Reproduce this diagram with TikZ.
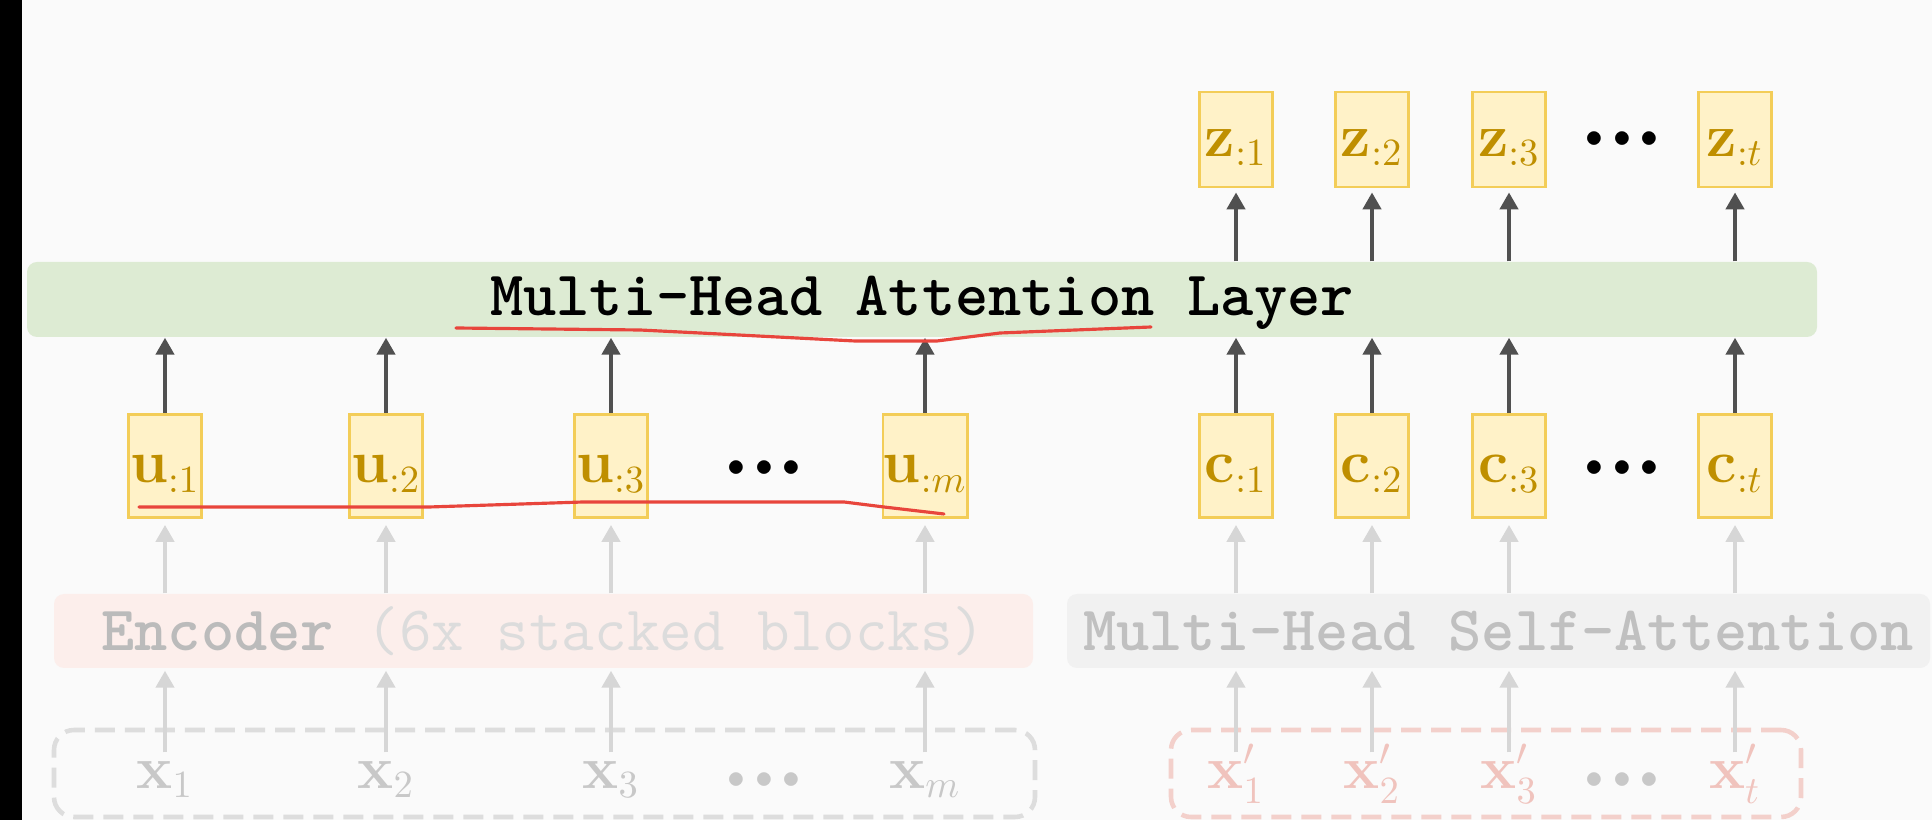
\documentclass[tikz,border=0pt]{standalone}
\usetikzlibrary{arrows.meta}
\definecolor{bg}{HTML}{FAFAFA}
\definecolor{barfill}{HTML}{DDEBD3}
\definecolor{cellfill}{HTML}{FFF2C8}
\definecolor{cellline}{HTML}{F3CD58}
\definecolor{gold}{HTML}{BF8F00}
\definecolor{darkarrow}{HTML}{505050}
\definecolor{lightarrow}{HTML}{D6D6D6}
\definecolor{encfill}{HTML}{FCEEEB}
\definecolor{enctext}{HTML}{BBBBBB}
\definecolor{enclight}{HTML}{DCDCDC}
\definecolor{selffill}{HTML}{F1F1F1}
\definecolor{selftext}{HTML}{C0C0C0}
\definecolor{xgray}{HTML}{C8C8C8}
\definecolor{xpink}{HTML}{F0C3BD}
\definecolor{xdash}{HTML}{DDDDDD}
\definecolor{xpdash}{HTML}{F3D0CB}
\definecolor{pen}{HTML}{E8453C}
\newcommand{\threedots}{$\mathord{\cdot}\mathord{\cdot}\mathord{\cdot}$}
\tikzset{
	cell/.style={draw=cellline, fill=cellfill, line width=0.8pt, minimum width=0.73cm, minimum height=1.03cm, inner sep=0pt, text=gold, font=\fontsize{16}{18}\selectfont, text height=0.42cm, text depth=0.08cm},
	zcell/.style={cell, minimum height=0.95cm},
	dotrow/.style={anchor=base, inner sep=0pt, font=\fontsize{24}{24}\selectfont\boldmath},
	xlab/.style={anchor=base, inner sep=0pt, text height=0.35cm, text depth=0pt, font=\fontsize{16}{18}\selectfont},
	layer/.style={rounded corners=0.1cm, minimum height=0.74cm, inner sep=0pt, font=\fontsize{18}{20}\selectfont\ttfamily},
	inbox/.style={rounded corners=0.2cm, line width=1.3pt, dash pattern=on 0.2cm off 0.1cm, minimum height=0.87cm, inner sep=0pt},
	darr/.style={draw=darkarrow, line width=1.4pt, -{Triangle[length=0.17cm,width=0.18cm]}},
	larr/.style={draw=lightarrow, line width=1.2pt, -{Triangle[length=0.17cm,width=0.18cm]}}
}
\begin{document}
\begin{tikzpicture}
	\fill[bg] (0,0) rectangle (19.32,8.2);
	\fill[black] (0,0) rectangle (0.22,8.2);
	\useasboundingbox (0,0) rectangle (19.32,8.2);

	% inputs
	\node[inbox, draw=xdash, minimum width=9.81cm] (xin) at (5.445,0.465) {};
	\node[inbox, draw=xpdash, minimum width=6.30cm] (xpin) at (14.86,0.465) {};
	\node[xlab, text=xgray] (x1) at (1.65,0.32) {$\mathbf{x}_1$};
	\node[xlab, text=xgray] (x2) at (3.86,0.32) {$\mathbf{x}_2$};
	\node[xlab, text=xgray] (x3) at (6.11,0.32) {$\mathbf{x}_3$};
	\node[dotrow, text=xgray] (xd) at (7.64,0.19) {\threedots};
	\node[xlab, text=xgray] (xm) at (9.25,0.32) {$\mathbf{x}_m$};
	\node[xlab, text=xpink] (xp1) at (12.36,0.32) {$\mathbf{x}'_1$};
	\node[xlab, text=xpink] (xp2) at (13.72,0.32) {$\mathbf{x}'_2$};
	\node[xlab, text=xpink] (xp3) at (15.09,0.32) {$\mathbf{x}'_3$};
	\node[dotrow, text=xgray] (xpd) at (16.22,0.19) {\threedots};
	\node[xlab, text=xpink] (xpt) at (17.35,0.32) {$\mathbf{x}'_t$};

	% encoder and decoder self-attention
	\node[layer, fill=encfill, text=enctext, minimum width=9.79cm] (enc) at (5.435,1.89) {\textbf{Encoder} \textcolor{enclight}{(6x stacked blocks)}};
	\node[layer, fill=selffill, text=selftext, minimum width=8.63cm] (self) at (14.985,1.89) {\textbf{Multi-Head Self-Attention}};

	% u and c
	\node[cell] (u1) at (1.65,3.54) {$\mathbf{u}_{:1}$};
	\node[cell] (u2) at (3.86,3.54) {$\mathbf{u}_{:2}$};
	\node[cell] (u3) at (6.11,3.54) {$\mathbf{u}_{:3}$};
	\node[dotrow] (ud) at (7.64,3.30) {\threedots};
	\node[cell] (um) at (9.25,3.54) {$\mathbf{u}_{:m}$};
	\node[cell] (c1) at (12.36,3.54) {$\mathbf{c}_{:1}$};
	\node[cell] (c2) at (13.72,3.54) {$\mathbf{c}_{:2}$};
	\node[cell] (c3) at (15.09,3.54) {$\mathbf{c}_{:3}$};
	\node[dotrow] (cd) at (16.22,3.30) {\threedots};
	\node[cell] (ct) at (17.35,3.54) {$\mathbf{c}_{:t}$};

	% attention layer and outputs
	\node[layer, fill=barfill, minimum width=17.9cm, minimum height=0.75cm, text depth=0.08cm] (mha) at (9.22,5.205) {\textbf{Multi-Head Attention Layer}};
	\node[zcell] (z1) at (12.36,6.805) {$\mathbf{z}_{:1}$};
	\node[zcell] (z2) at (13.72,6.805) {$\mathbf{z}_{:2}$};
	\node[zcell] (z3) at (15.09,6.805) {$\mathbf{z}_{:3}$};
	\node[dotrow] (zd) at (16.22,6.59) {\threedots};
	\node[zcell] (zt) at (17.35,6.805) {$\mathbf{z}_{:t}$};

	\foreach \a/\b in {x1/u1,x2/u2,x3/u3,xm/um}{
		\draw[larr, shorten >=0.02cm] (\a.north) -- (\a.north |- enc.south);
		\draw[larr, shorten >=0.06cm] (enc.north -| \b) -- (\b.south);
		\draw[darr] (\b.north) -- (\b.north |- mha.south);
	}
	\foreach \a/\b/\c in {xp1/c1/z1,xp2/c2/z2,xp3/c3/z3,xpt/ct/zt}{
		\draw[larr, shorten >=0.02cm] (\a.north) -- (\a.north |- self.south);
		\draw[larr, shorten >=0.06cm] (self.north -| \b) -- (\b.south);
		\draw[darr] (\b.north) -- (\b.north |- mha.south);
		\draw[darr, shorten >=0.04cm] (mha.north -| \c) -- (\c.south);
	}

	% pen marks
	\draw[pen, line width=0.9pt, line cap=round, line join=round] (4.56,4.92) -- (6.40,4.90) -- (7.00,4.87) -- (8.55,4.79) -- (9.37,4.79) -- (10.00,4.87) -- (11.51,4.93);
	\draw[pen, line width=0.9pt, line cap=round, line join=round] (1.39,3.13) -- (4.29,3.13) -- (5.83,3.18) -- (8.44,3.18) -- (8.84,3.13) -- (9.44,3.06);
\end{tikzpicture}
\end{document}
